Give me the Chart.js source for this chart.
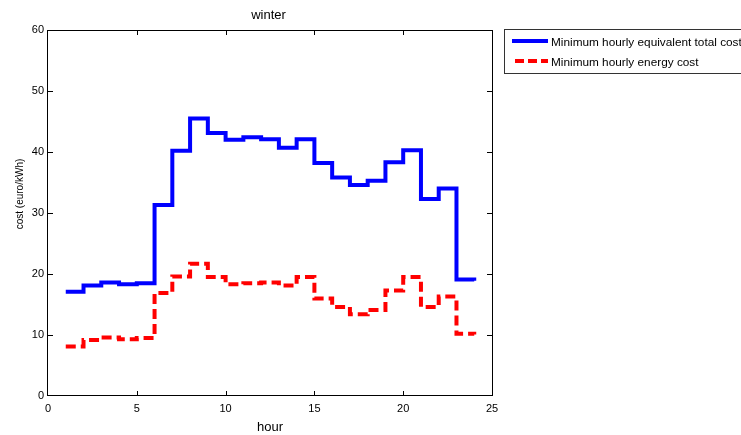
<!DOCTYPE html>
<html>
<head>
<meta charset="utf-8">
<title>winter</title>
<script src="https://cdn.jsdelivr.net/npm/chart.js@4.4.1/dist/chart.umd.min.js"></script>
<style>
    html, body { margin: 0; padding: 0; background: #fff; }
    #chart { display: block; }
</style>
</head>
<body>
<canvas id="chart" width="741" height="435"></canvas>
<script>
// data
const hours = [1, 2, 3, 4, 5, 6, 7, 8, 9, 10, 11, 12, 13, 14, 15, 16, 17, 18, 19, 20, 21, 22, 23, 24];
const totalCost = [17.1, 18.1, 18.6, 18.3, 18.5, 31.3, 40.2, 45.5, 43.1, 42.0, 42.4, 42.1,
    40.7, 42.1, 38.2, 35.8, 34.6, 35.3, 38.3, 40.3, 32.3, 34.0, 19.1, 18.9];
const energyCost = [8.1, 9.2, 9.6, 9.3, 9.5, 16.9, 19.6, 21.7, 19.5, 18.3, 18.5, 18.6,
    18.1, 19.5, 16.0, 14.6, 13.4, 14.1, 17.3, 19.5, 14.6, 16.3, 10.2, 10.1];

const seriesNames = ["Minimum hourly equivalent total cost", "Minimum hourly energy cost"];
const xTicks = [0, 5, 10, 15, 20, 25];
const yTicks = [0, 10, 20, 30, 40, 50, 60];

const fontFamily = "'Liberation Sans', Arial, sans-serif";

function toPoints(ys) {
    return hours.map((h, i) => ({ x: h, y: ys[i] }));
}

// box, inward ticks, title, y label and legend drawn like the matlab figure
const matlabBox = {
    id: "matlabBox",
    afterDraw(chart) {
        const ctx = chart.ctx;
        const a = chart.chartArea;
        const xs = chart.scales.x;
        const ys = chart.scales.y;
        ctx.save();
        ctx.strokeStyle = "#000";
        ctx.lineWidth = 1;
        ctx.strokeRect(a.left - 0.5, a.top + 0.5, a.right - a.left + 1, a.bottom - a.top - 1);

        ctx.beginPath();
        xTicks.slice(1, -1).forEach(v => {
            const px = Math.round(xs.getPixelForValue(v)) + 0.5;
            ctx.moveTo(px, a.bottom); ctx.lineTo(px, a.bottom - 5);
            ctx.moveTo(px, a.top); ctx.lineTo(px, a.top + 5);
        });
        yTicks.slice(1, -1).forEach(v => {
            const py = Math.round(ys.getPixelForValue(v)) + 0.5;
            ctx.moveTo(a.left, py); ctx.lineTo(a.left + 5, py);
            ctx.moveTo(a.right, py); ctx.lineTo(a.right - 5, py);
        });
        ctx.stroke();

        // title
        ctx.fillStyle = "#000";
        ctx.font = "13px " + fontFamily;
        ctx.textAlign = "center";
        ctx.textBaseline = "alphabetic";
        ctx.fillText("winter", 268.5, 19);

        // y axis label
        ctx.save();
        ctx.translate(20, 194);
        ctx.rotate(-Math.PI / 2);
        ctx.font = "10px " + fontFamily;
        ctx.textBaseline = "middle";
        ctx.fillText("cost (euro/kWh)", 0, 0);
        ctx.restore();

        // legend
        ctx.fillStyle = "#fff";
        ctx.fillRect(504, 29, 245, 45);
        ctx.strokeStyle = "#333";
        ctx.lineWidth = 1;
        ctx.strokeRect(504.5, 29.5, 245, 44);

        ctx.lineWidth = 4;
        ctx.strokeStyle = "#0000ff";
        ctx.beginPath();
        ctx.moveTo(512, 41); ctx.lineTo(548, 41);
        ctx.stroke();

        ctx.strokeStyle = "#ff0000";
        ctx.setLineDash([9, 4]);
        ctx.beginPath();
        ctx.moveTo(515, 61); ctx.lineTo(548, 61);
        ctx.stroke();
        ctx.setLineDash([]);

        ctx.fillStyle = "#000";
        ctx.font = "11.8px " + fontFamily;
        ctx.textAlign = "left";
        ctx.textBaseline = "alphabetic";
        ctx.fillText(seriesNames[0], 551, 46);
        ctx.fillText(seriesNames[1], 551, 66);
        ctx.restore();
    }
};

const ctx = document.getElementById("chart");

const chart = new Chart(ctx, {
    type: "line",
    data: {
        datasets: [{
            label: seriesNames[0],
            data: toPoints(totalCost),
            borderColor: "#0000ff",
            borderWidth: 4,
            stepped: true,
            pointRadius: 0,
            fill: false
        }, {
            label: seriesNames[1],
            data: toPoints(energyCost),
            borderColor: "#ff0000",
            borderWidth: 4,
            borderDash: [10, 5],
            stepped: true,
            pointRadius: 0,
            fill: false
        }]
    },
    options: {
        responsive: false,
        animation: false,
        layout: {
            padding: { top: 30, right: 249, left: 0, bottom: 0 }
        },
        plugins: {
            legend: { display: false },
            tooltip: { enabled: false }
        },
        scales: {
            x: {
                type: "linear",
                min: 0,
                max: 25,
                afterBuildTicks(scale) {
                    scale.ticks = xTicks.map(v => ({ value: v }));
                },
                afterFit(scale) { scale.height = 39; },
                grid: { display: false, drawTicks: false },
                border: { display: false },
                ticks: {
                    color: "#000",
                    padding: 6,
                    font: { family: fontFamily, size: 11 }
                },
                title: {
                    display: true,
                    text: "hour",
                    color: "#000",
                    padding: { top: 0, bottom: 0 },
                    font: { family: fontFamily, size: 13 }
                }
            },
            y: {
                min: 0,
                max: 60,
                afterBuildTicks(scale) {
                    scale.ticks = yTicks.map(v => ({ value: v }));
                },
                afterFit(scale) { scale.width = 48; },
                grid: { display: false, drawTicks: false },
                border: { display: false },
                ticks: {
                    color: "#000",
                    padding: 4,
                    font: { family: fontFamily, size: 11 }
                }
            }
        }
    },
    plugins: [matlabBox]
});
</script>
</body>
</html>
